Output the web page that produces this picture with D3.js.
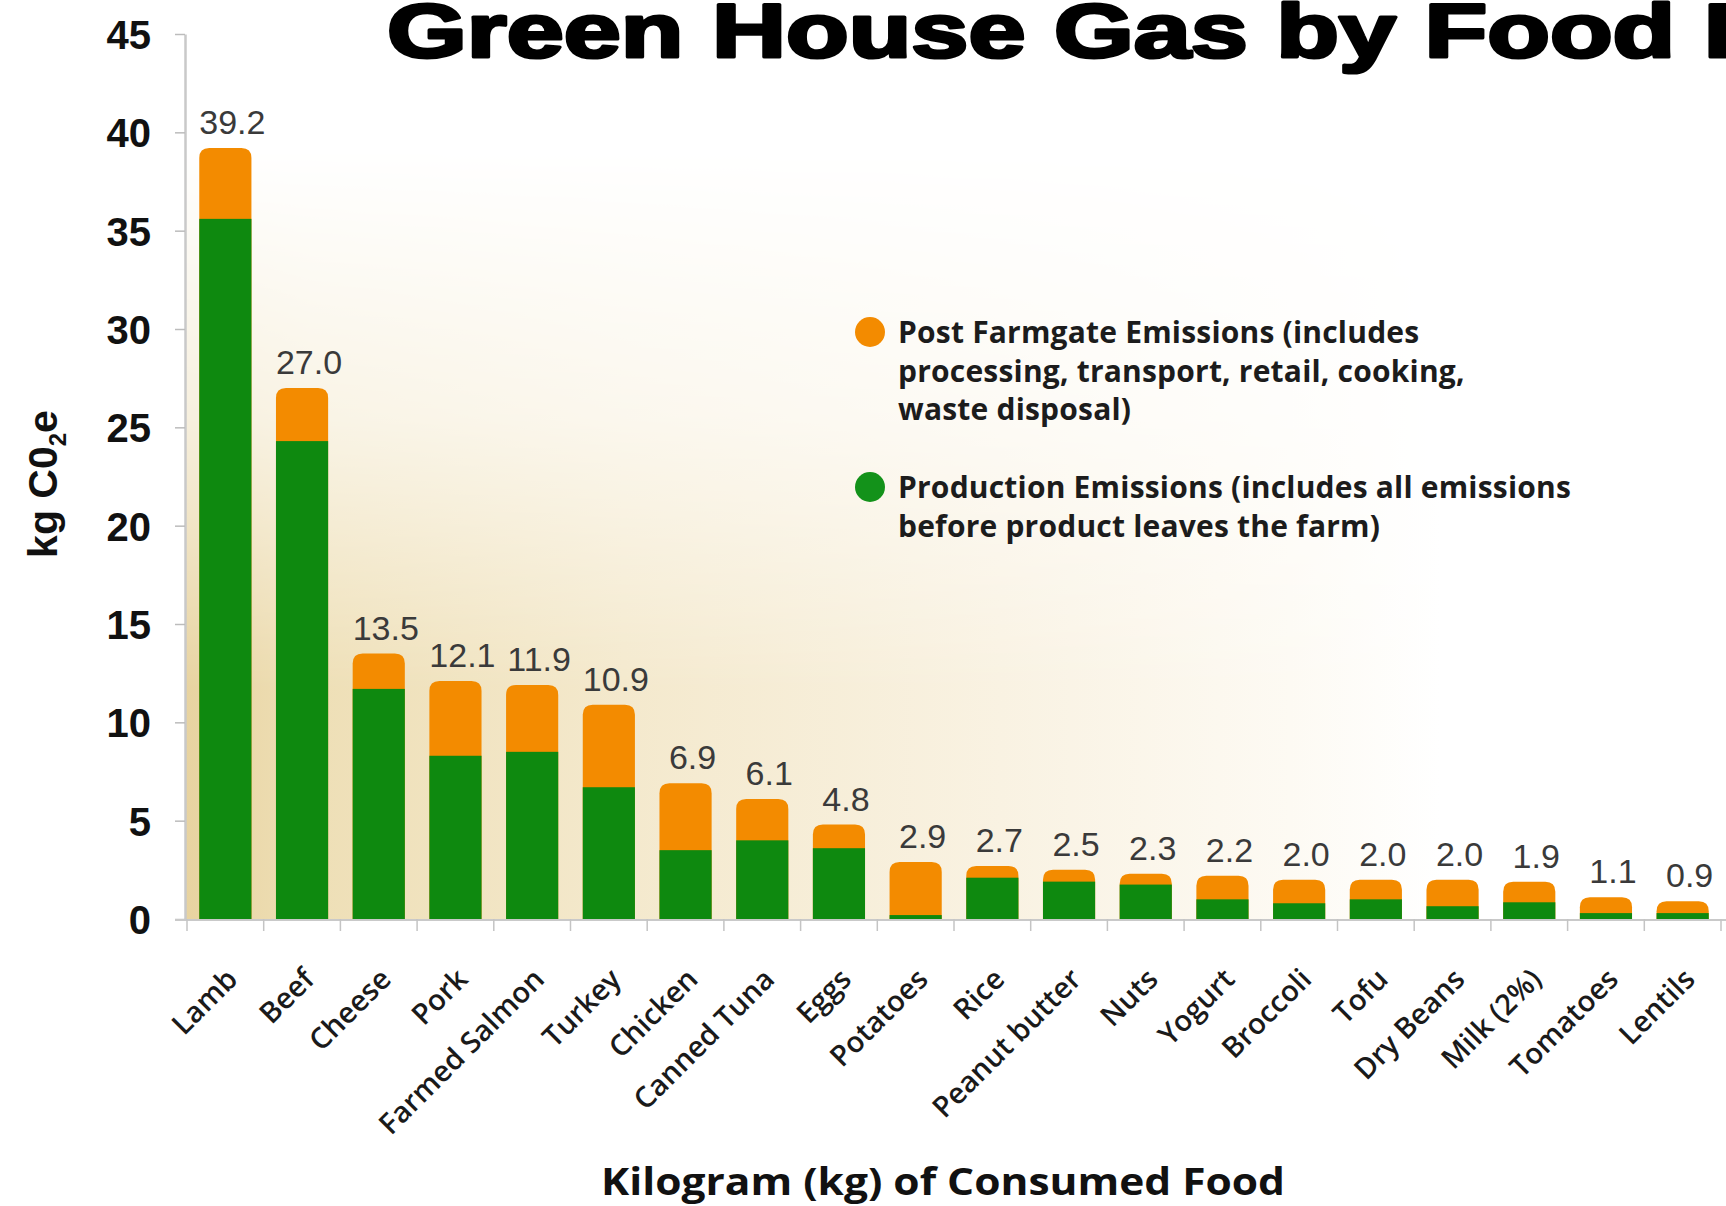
<!DOCTYPE html>
<html>
<head>
<meta charset="utf-8">
<script src="https://cdn.jsdelivr.net/npm/d3@7"></script>
<style>
  body { margin: 0; background: #fff; }
  svg { display: block; }
</style>
</head>
<body>
<svg id="chart"></svg>
<script>
// values (kg CO2e per kg of food)
const foods = ["Lamb", "Beef", "Cheese", "Pork", "Farmed Salmon", "Turkey", "Chicken", "Canned Tuna", "Eggs",
  "Potatoes", "Rice", "Peanut butter", "Nuts", "Yogurt", "Broccoli", "Tofu", "Dry Beans", "Milk (2%)", "Tomatoes", "Lentils"];
const totals = [39.2, 27.0, 13.5, 12.1, 11.9, 10.9, 6.9, 6.1, 4.8, 2.9, 2.7, 2.5, 2.3, 2.2, 2.0, 2.0, 2.0, 1.9, 1.1, 0.9];
const production = [35.6, 24.3, 11.7, 8.3, 8.5, 6.7, 3.5, 4.0, 3.6, 0.2, 2.1, 1.9, 1.75, 1.0, 0.8, 1.0, 0.65, 0.85, 0.3, 0.3];
const postFarmgate = [3.6, 2.7, 1.8, 3.8, 3.4, 4.2, 3.4, 2.1, 1.2, 2.7, 0.6, 0.6, 0.55, 1.2, 1.2, 1.0, 1.35, 1.05, 0.8, 0.6];
const yTicks = [0, 5, 10, 15, 20, 25, 30, 35, 40, 45];

const legendItems = [
  { color: "#f38b00", lines: ["Post Farmgate Emissions (includes", "processing, transport, retail, cooking,", "waste disposal)"] },
  { color: "#13921a", lines: ["Production Emissions (includes all emissions", "before product leaves the farm)"] }
];

const W = 1726, H = 1206;
const GREEN = "#0e890f", ORANGE = "#f38b00";

const svg = d3.select("#chart").attr("width", W).attr("height", H);
const defs = svg.append("defs");

const x = d3.scaleBand().domain(foods).range([187, 1721]).paddingInner(0.32).paddingOuter(0.16);
const y = d3.scaleLinear().domain([0, 45]).range([919, 34]);

// beige backdrop behind the bars
const gH = defs.append("linearGradient").attr("id", "bgH")
  .attr("gradientUnits", "userSpaceOnUse").attr("x1", 185).attr("x2", 1440).attr("y1", 0).attr("y2", 0);
[[0, "#e8d3a0"], [0.1, "#eedfb6"], [0.35, "#f4e9cd"], [0.65, "#f9f2e2"], [0.88, "#fdfaf3"], [1, "#ffffff"]]
  .forEach(([o, c]) => gH.append("stop").attr("offset", o).attr("stop-color", c));
const gV = defs.append("linearGradient").attr("id", "bgV")
  .attr("gradientUnits", "userSpaceOnUse").attr("x1", 0).attr("x2", 0).attr("y1", 150).attr("y2", 919);
[[0, "#000"], [0.35, "#5a5a5a"], [0.7, "#fff"], [1, "#fff"]]
  .forEach(([o, c]) => gV.append("stop").attr("offset", o).attr("stop-color", c));
defs.append("mask").attr("id", "bgMask").attr("maskUnits", "userSpaceOnUse")
  .attr("x", 0).attr("y", 0).attr("width", W).attr("height", H)
  .append("rect").attr("x", 0).attr("y", 0).attr("width", W).attr("height", H).attr("fill", "url(#bgV)");
svg.append("rect")
  .attr("x", 185).attr("y", 150).attr("width", 1260).attr("height", y(0) - 150)
  .attr("fill", "url(#bgH)").attr("mask", "url(#bgMask)");

// title (heavy, cut at the right edge like the source)
const titleText = "Green House Gas by Food F";
const title = svg.append("text")
  .attr("font-family", "Liberation Sans, Arial, sans-serif").attr("font-weight", "bold")
  .attr("font-size", 76).attr("fill", "#000").attr("stroke", "#000").attr("stroke-width", 3.2)
  .attr("stroke-linejoin", "round")
  .text(titleText);
const fStart = title.node().getStartPositionOfChar(titleText.length - 1).x;
const sx = (1704 - 387) / fStart;
title.attr("transform", `translate(387,57) scale(${sx},1)`);

// bars
function roundTop(x0, y0, w, h, r) {
  r = Math.min(r, h, w / 2);
  return `M${x0},${y0 + h}V${y0 + r}Q${x0},${y0} ${x0 + r},${y0}H${x0 + w - r}Q${x0 + w},${y0} ${x0 + w},${y0 + r}V${y0 + h}Z`;
}

const bars = svg.append("g").selectAll("g").data(foods).join("g");
bars.append("path")
  .attr("fill", ORANGE)
  .attr("d", (d, i) => roundTop(x(d), y(production[i] + postFarmgate[i]), x.bandwidth(), y(0) - y(production[i] + postFarmgate[i]), 10));
bars.append("rect")
  .attr("fill", GREEN)
  .attr("x", d => x(d)).attr("width", x.bandwidth())
  .attr("y", (d, i) => y(production[i]))
  .attr("height", (d, i) => y(0) - y(production[i]));

// total labels
bars.append("text")
  .attr("x", d => x(d) + x.bandwidth() / 2 + 7)
  .attr("y", (d, i) => y(production[i] + postFarmgate[i]) - 14)
  .attr("text-anchor", "middle")
  .attr("font-family", "Liberation Sans, Arial, sans-serif").attr("font-size", 34)
  .attr("fill", "#3a3a3a")
  .text((d, i) => totals[i].toFixed(1));

// y axis
const gy = svg.append("g").attr("transform", "translate(185,0)")
  .call(d3.axisLeft(y).tickValues(yTicks).tickSize(10).tickSizeOuter(0).tickPadding(24));
gy.select(".domain").attr("stroke", "#c9c9c9").attr("stroke-width", 2.5);
gy.selectAll(".tick line").attr("stroke", "#bcbcbc").attr("stroke-width", 1.5);
gy.selectAll(".tick text")
  .attr("font-family", "Liberation Sans, Arial, sans-serif").attr("font-weight", "bold")
  .attr("font-size", 40).attr("fill", "#111").attr("dy", "0.36em");

// x axis baseline, boundary ticks and rotated labels
const gap = x.step() - x.bandwidth();
svg.append("line").attr("x1", 175).attr("x2", W).attr("y1", y(0) + 1).attr("y2", y(0) + 1)
  .attr("stroke", "#c9c9c9").attr("stroke-width", 2);
svg.append("g").selectAll("line")
  .data(foods.concat([null]))
  .join("line")
  .attr("x1", (d, i) => i < foods.length ? x(d) - gap / 2 : x(foods[foods.length - 1]) + x.bandwidth() + gap / 2)
  .attr("x2", (d, i) => i < foods.length ? x(d) - gap / 2 : x(foods[foods.length - 1]) + x.bandwidth() + gap / 2)
  .attr("y1", y(0)).attr("y2", y(0) + 12)
  .attr("stroke", "#c4c4c4").attr("stroke-width", 1.5);

const gx = svg.append("g").attr("transform", `translate(0,${y(0)})`)
  .call(d3.axisBottom(x).tickSize(0).tickPadding(0));
gx.select(".domain").remove();
gx.selectAll(".tick text")
  .attr("x", 0).attr("y", 0).attr("dy", 0)
  .attr("transform", "translate(14,62) rotate(-45)")
  .attr("text-anchor", "end")
  .attr("font-family", "Open Sans, sans-serif").attr("font-weight", 600)
  .attr("font-size", 29).attr("fill", "#1a1a1a");

// axis titles
const yt = svg.append("text")
  .attr("transform", "translate(57,484) rotate(-90)")
  .attr("text-anchor", "middle")
  .attr("font-family", "Liberation Sans, Arial, sans-serif").attr("font-weight", "bold")
  .attr("font-size", 41).attr("fill", "#111");
yt.append("tspan").text("kg C0");
yt.append("tspan").attr("font-size", 24).attr("dy", 9).text("2");
yt.append("tspan").attr("dy", -9).text("e");

svg.append("text")
  .attr("x", 943).attr("y", 1195)
  .attr("text-anchor", "middle")
  .attr("font-family", "Open Sans, sans-serif").attr("font-weight", "bold")
  .attr("font-size", 38).attr("fill", "#111")
  .attr("textLength", 684).attr("lengthAdjust", "spacingAndGlyphs")
  .text("Kilogram (kg) of Consumed Food");

// legend
const legend = svg.append("g").attr("transform", "translate(870,0)");
const legendTop = [332, 487];
legendItems.forEach((item, k) => {
  const g = legend.append("g").attr("transform", `translate(0,${legendTop[k]})`);
  g.append("circle").attr("r", 15).attr("fill", item.color);
  g.selectAll("text").data(item.lines).join("text")
    .attr("x", 28).attr("y", (d, j) => 11 + j * 38.5)
    .attr("font-family", "Open Sans, sans-serif").attr("font-weight", "bold")
    .attr("font-size", 30).attr("letter-spacing", 0.2).attr("fill", "#1c1c1c")
    .text(d => d);
});
</script>
</body>
</html>
